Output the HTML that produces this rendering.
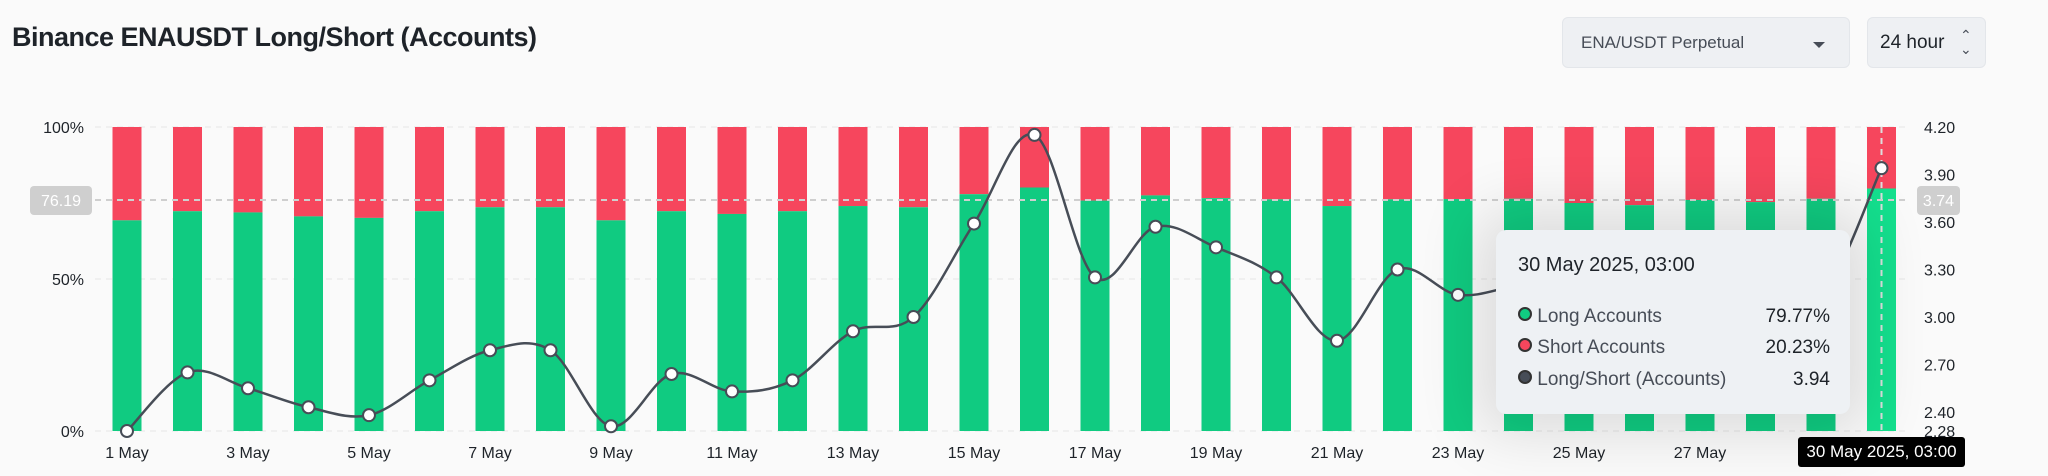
<!DOCTYPE html>
<html><head><meta charset="utf-8"><style>
body{margin:0;width:2048px;height:476px;background:#fafafa;font-family:"Liberation Sans",sans-serif;overflow:hidden;position:relative}
.t{position:absolute}
</style></head><body>
<div class="t" style="left:12px;top:22px;font-size:27px;font-weight:bold;color:#1e2329;letter-spacing:-0.5px">Binance ENAUSDT Long/Short (Accounts)</div>
<div class="t" style="left:1562px;top:17px;width:288px;height:51px;background:#eef0f3;border:1px solid #e3e6ea;border-radius:6px;box-sizing:border-box">
<span style="position:absolute;left:18px;top:15px;font-size:17px;color:#474d57">ENA/USDT Perpetual</span>
<span style="position:absolute;right:24px;top:24px;border-left:6px solid transparent;border-right:6px solid transparent;border-top:6px solid #474d57"></span></div>
<div class="t" style="left:1867px;top:17px;width:119px;height:51px;background:#eef0f3;border:1px solid #e3e6ea;border-radius:6px;box-sizing:border-box">
<span style="position:absolute;left:12px;top:14px;font-size:19px;color:#1e2329">24 hour</span>
<span style="position:absolute;left:92px;top:10px;font-size:14px;color:#474d57;line-height:14px">⌃<br>⌄</span></div>
<svg id="c" width="2048" height="476" style="position:absolute;left:0;top:0"></svg>
<div class="t" style="left:1496px;top:230px;width:354px;height:184px;background:#eef1f4;border-radius:10px;box-shadow:0 0 60px 20px rgba(0,0,0,0.12);font-size:19px;color:#1e2329">
<div style="position:absolute;left:22px;top:24px;font-size:20px">30 May 2025, 03:00</div>
<div style="position:absolute;left:22px;top:76px;width:312px"><span style="display:inline-block;width:10px;height:10px;border-radius:50%;background:#10cb81;border:2px solid #333;vertical-align:1px"></span> <span style="color:#474d57">Long Accounts</span><span style="float:right">79.77%</span></div>
<div style="position:absolute;left:22px;top:107px;width:312px"><span style="display:inline-block;width:10px;height:10px;border-radius:50%;background:#f6465d;border:2px solid #333;vertical-align:1px"></span> <span style="color:#474d57">Short Accounts</span><span style="float:right">20.23%</span></div>
<div style="position:absolute;left:22px;top:139px;width:312px"><span style="display:inline-block;width:10px;height:10px;border-radius:50%;background:#474d57;border:2px solid #333;vertical-align:1px"></span> <span style="color:#474d57">Long/Short (Accounts)</span><span style="float:right">3.94</span></div>
</div>
<div class="t" style="left:1798px;top:437px;width:167px;height:30px;background:#000;border-radius:3px;color:#fff;font-size:17px;line-height:30px;text-align:center">30 May 2025, 03:00</div>
<script>
const days=[1,2,3,4,5,6,7,8,9,10,11,12,13,14,15,16,17,18,19,20,21,22,23,24,25,26,27,28,29,30];
const longPct=[69.3,72.3,71.9,70.6,70.1,72.3,73.6,73.6,69.3,72.3,71.4,72.3,74,73.6,77.9,80.1,75.8,77.5,76.6,76.2,74,76.2,76.3,76.4,75,74.3,76,75.3,76.4,79.77];
const ratio=[2.28,2.65,2.55,2.43,2.38,2.6,2.79,2.79,2.31,2.64,2.53,2.6,2.91,3.0,3.59,4.15,3.25,3.57,3.44,3.25,2.85,3.3,3.14,3.2,3.25,3.2,3.15,3.1,3.12,3.94];
const leftTicks=[0,50,100];
const rightTicks=[2.28,2.40,2.70,3.00,3.30,3.60,3.90,4.20];
const NS="http://www.w3.org/2000/svg",svg=document.getElementById('c');
const X0=127,DX=60.5,TOP=127,BOT=431,BW=29;
const x=i=>X0+DX*i, yL=v=>BOT-(BOT-TOP)*v/100, yR=v=>BOT-(BOT-TOP)*(v-2.28)/(4.2-2.28);
function el(t,a,p){const e=document.createElementNS(NS,t);for(const k in a)e.setAttribute(k,a[k]);(p||svg).appendChild(e);return e;}
leftTicks.forEach(v=>{
 const l=el('line',{x1:95,x2:1905,y1:yL(v),y2:yL(v),stroke:'#e6e6e6','stroke-dasharray':'6 5'});
 
 
 const t=el('text',{x:84,y:yL(v)+6,'text-anchor':'end','font-size':16,fill:'#1e2329'});t.textContent=v+'%';
 
 
});
rightTicks.forEach(v=>{
 const t=el('text',{x:1924,y:yR(v)+6,'font-size':16,fill:'#1e2329'});t.textContent=v.toFixed(2);
 
 
});
days.forEach((d,i)=>{
 const g=i==29?'#14e08e':'#10cb81';
 const r=el('rect',{x:x(i)-BW/2,y:TOP,width:BW,height:yL(longPct[i])-TOP,fill:'#f6465d'});
 
 
 const b=el('rect',{x:x(i)-BW/2,y:yL(longPct[i]),width:BW,height:BOT-yL(longPct[i]),fill:g});
 
 
 if(i%2==0&&i<28){const t=el('text',{x:x(i),y:458,'text-anchor':'middle','font-size':16,fill:'#1e2329'});t.textContent=d+' May';
 
 }
});
const cl=el('line',{x1:95,x2:1905,y1:200,y2:200,stroke:'#cfcfcf','stroke-dasharray':'6 5','stroke-width':2});


const cv=el('line',{x1:x(29),x2:x(29),y1:TOP,y2:BOT,stroke:'#ddd','stroke-dasharray':'6 5','stroke-width':2});


// smooth line
const P=ratio.map((v,i)=>[x(i),yR(v)]);
let d='M'+P[0][0]+','+P[0][1];
for(let i=0;i<P.length-1;i++){const p0=P[i-1]||P[i],p1=P[i],p2=P[i+1],p3=P[i+2]||p2,k=0.17;
 d+=` C${p1[0]+(p2[0]-p0[0])*k},${p1[1]+(p2[1]-p0[1])*k} ${p2[0]-(p3[0]-p1[0])*k},${p2[1]-(p3[1]-p1[1])*k} ${p2[0]},${p2[1]}`;}
const ln=el('path',{d:d,fill:'none',stroke:'#474d57','stroke-width':2.5});


P.forEach(p=>{const c=el('circle',{cx:p[0],cy:p[1],r:6,fill:'#fff',stroke:'#474d57','stroke-width':2});
 
 });
function badge(xx,w,txt,n){const g=el('g',{});
 el('rect',{x:xx,y:186,width:w,height:29,rx:4,fill:'#cfcfcf'},g);const t=el('text',{x:xx+w/2,y:206,'text-anchor':'middle','font-size':16,fill:'#fff'},g);t.textContent=txt;}
badge(30,62,'76.19','left-crosshair-label');
badge(1917,43,'3.74','right-crosshair-label');
</script>
</body></html>
